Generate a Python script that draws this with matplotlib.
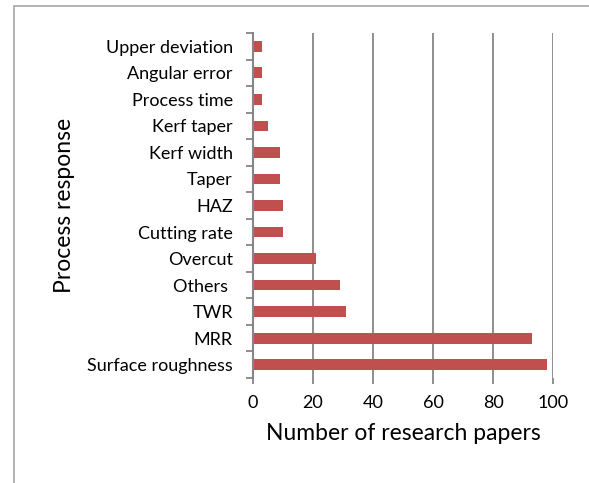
import matplotlib
matplotlib.use("Agg")
import matplotlib.pyplot as plt
from matplotlib.patches import Rectangle

plt.rcParams['font.family'] = ['Lato', 'DejaVu Sans']

# data, bottom to top as drawn
responses = ["Surface roughness", "MRR", "TWR", "Others ", "Overcut",
             "Cutting rate", "HAZ", "Taper", "Kerf width", "Kerf taper",
             "Process time", "Angular error", "Upper deviation"]
papers = [98, 93, 31, 29, 21, 10, 10, 9, 9, 5, 3, 3, 3]
x_ticks = [0, 20, 40, 60, 80, 100]

grey = '#868686'

fig = plt.figure(figsize=(5.89, 4.83), dpi=100)
ax = fig.add_axes([253 / 589, 1 - 378 / 483, 300 / 589, 345 / 483])

pos = list(range(len(responses)))
ax.barh(pos, papers, height=0.4, color='#C0504D', zorder=3)

ax.set_xlim(0, 100)
ax.set_ylim(-0.5, len(responses) - 0.5)
ax.set_xticks(x_ticks)
ax.set_yticks(pos)
ax.set_yticklabels(responses)
ax.set_yticks([p - 0.5 for p in pos] + [len(responses) - 0.5], minor=True)

ax.grid(axis='x', color=grey, linewidth=1.3, zorder=0)
for s in ['top', 'right', 'bottom']:
    ax.spines[s].set_visible(False)
ax.spines['left'].set_color(grey)
ax.spines['left'].set_linewidth(1.5)
ax.spines['left'].set_zorder(4)

ax.tick_params(axis='y', which='major', length=0, labelsize=13, pad=14.5)
ax.tick_params(axis='y', which='minor', length=5, width=1.3, color=grey)
ax.tick_params(axis='x', length=4, width=1.3, color=grey, labelsize=13, pad=8)

ax.set_xlabel("Number of research papers", fontsize=16.5, labelpad=9)
ax.set_ylabel("Process response", fontsize=16.5, labelpad=9)

# chart frame like the spreadsheet chart area
fig.patches.append(Rectangle((14 / 589, -0.1), 1.2, 1 - 6 / 483 + 0.1,
                             transform=fig.transFigure, fill=False,
                             edgecolor='#A6A6A6', linewidth=1.2))

fig.savefig("out.png", dpi=100)
